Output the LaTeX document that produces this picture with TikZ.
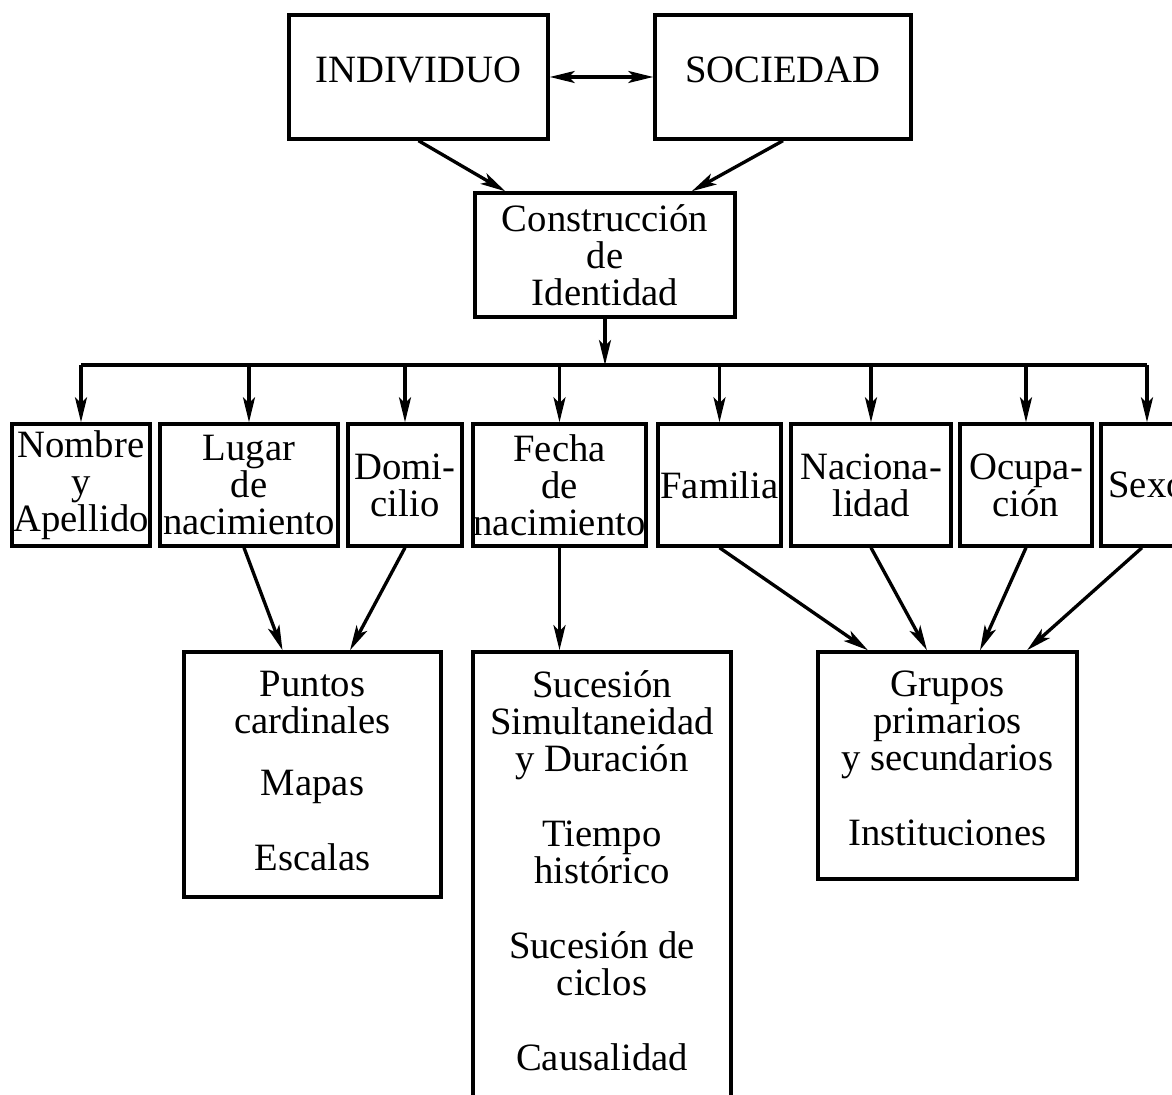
\documentclass[tikz,border=0pt]{standalone}
\usepackage{fontspec}
\setmainfont{Liberation Serif}
\usetikzlibrary{arrows.meta,positioning}
\tikzset{
  box/.style={draw, rectangle, align=center, inner sep=0pt, font=\fontsize{11}{10.5}\selectfont},
  txt/.style={align=center, inner sep=0pt, anchor=north, font=\fontsize{11}{10.5}\selectfont},
}

\begin{document}
\begin{tikzpicture}[x=0.01cm, y=-0.01cm, line width=0.95pt,
    >={Stealth[length=0.25cm, width=0.12cm, inset=0.06cm]}]
    \useasboundingbox (0,0) rectangle (1172,1095);
    \clip (0,0) rectangle (1172,1095);

    \node[box, minimum width=2.59cm, minimum height=1.24cm, text depth=0.14cm] (ind) at (418.5,77) {INDIVIDUO};
    \node[box, minimum width=2.56cm, minimum height=1.24cm, text depth=0.14cm] (soc) at (783,77) {SOCIEDAD};
    \node[box, minimum width=2.60cm, minimum height=1.24cm] (cid) at (605,255) {Construcción\\de\\Identidad};
    \coordinate (bus) at (605,365);

    % Rasgos
    \node[box, minimum width=1.38cm, minimum height=1.22cm] (nom) at (81,485) {Nombre\\y\\Apellido};
    \node[box, minimum width=1.78cm, minimum height=1.22cm] (lug) at (249,485) {Lugar\\de\\nacimiento};
    \node[box, minimum width=1.14cm, minimum height=1.22cm] (dom) at (405,485) {Domi-\\cilio};
    \node[box, minimum width=1.73cm, minimum height=1.22cm] (fec) at (559.5,485) {Fecha\\de\\nacimiento};
    \node[box, minimum width=1.23cm, minimum height=1.22cm] (fam) at (719.5,485) {Familia};
    \node[box, minimum width=1.60cm, minimum height=1.22cm] (nac) at (871,485) {Naciona-\\lidad};
    \node[box, minimum width=1.32cm, minimum height=1.22cm] (ocu) at (1026,485) {Ocupa-\\ción};
    \node[box, minimum width=0.92cm, minimum height=1.22cm] (sex) at (1147,485) {Sexo};

    % Contenidos
    \node[box, minimum width=2.57cm, minimum height=2.45cm] (pun) at (312.5,774.5) {};
    \node[box, minimum width=2.58cm, minimum height=4.78cm] (suc) at (602,891) {};
    \node[box, minimum width=2.59cm, minimum height=2.27cm] (gru) at (947.5,765.5) {};
    \node[txt, yshift=-0.19cm] (puntxt) at (pun.north) {Puntos\\cardinales\\[0.25cm]Mapas\\[0.38cm]Escalas};
    \node[txt, yshift=-0.19cm] (suctxt) at (suc.north) {Sucesión\\Simultaneidad\\y Duración\\[0.38cm]Tiempo\\histórico\\[0.38cm]Sucesión de\\ciclos\\[0.38cm]Causalidad};
    \node[txt, yshift=-0.19cm] (grutxt) at (gru.north) {Grupos\\primarios\\y secundarios\\[0.38cm]Instituciones};

    \draw[<->] (ind) -- (soc);
    \draw[->] (ind.south) -- ([xshift=0.32cm]cid.north west);
    \draw[->] (soc.south) -- ([xshift=-0.45cm]cid.north east);
    \draw[->] (cid.south) -- (bus);
    \draw (nom.north |- bus) -- (sex.north |- bus);
    \foreach \n in {nom,lug,dom,fec,fam,nac,ocu,sex}
        \draw[->] (\n.north |- bus) -- (\n.north);

    \draw[->] ([xshift=-0.05cm]lug.south) -- ([xshift=-0.30cm]pun.north);
    \draw[->] (dom.south) -- ([xshift=0.375cm]pun.north);
    \draw[->] (fec.south) -- (fec.south |- suc.north);
    \draw[->] (fam.south) -- ([xshift=-0.795cm]gru.north);
    \draw[->] (nac.south) -- ([xshift=-0.205cm]gru.north);
    \draw[->] (ocu.south) -- ([xshift=0.325cm]gru.north);
    \draw[->] ([xshift=-0.05cm]sex.south) -- ([xshift=0.795cm]gru.north);
\end{tikzpicture}
\end{document}
